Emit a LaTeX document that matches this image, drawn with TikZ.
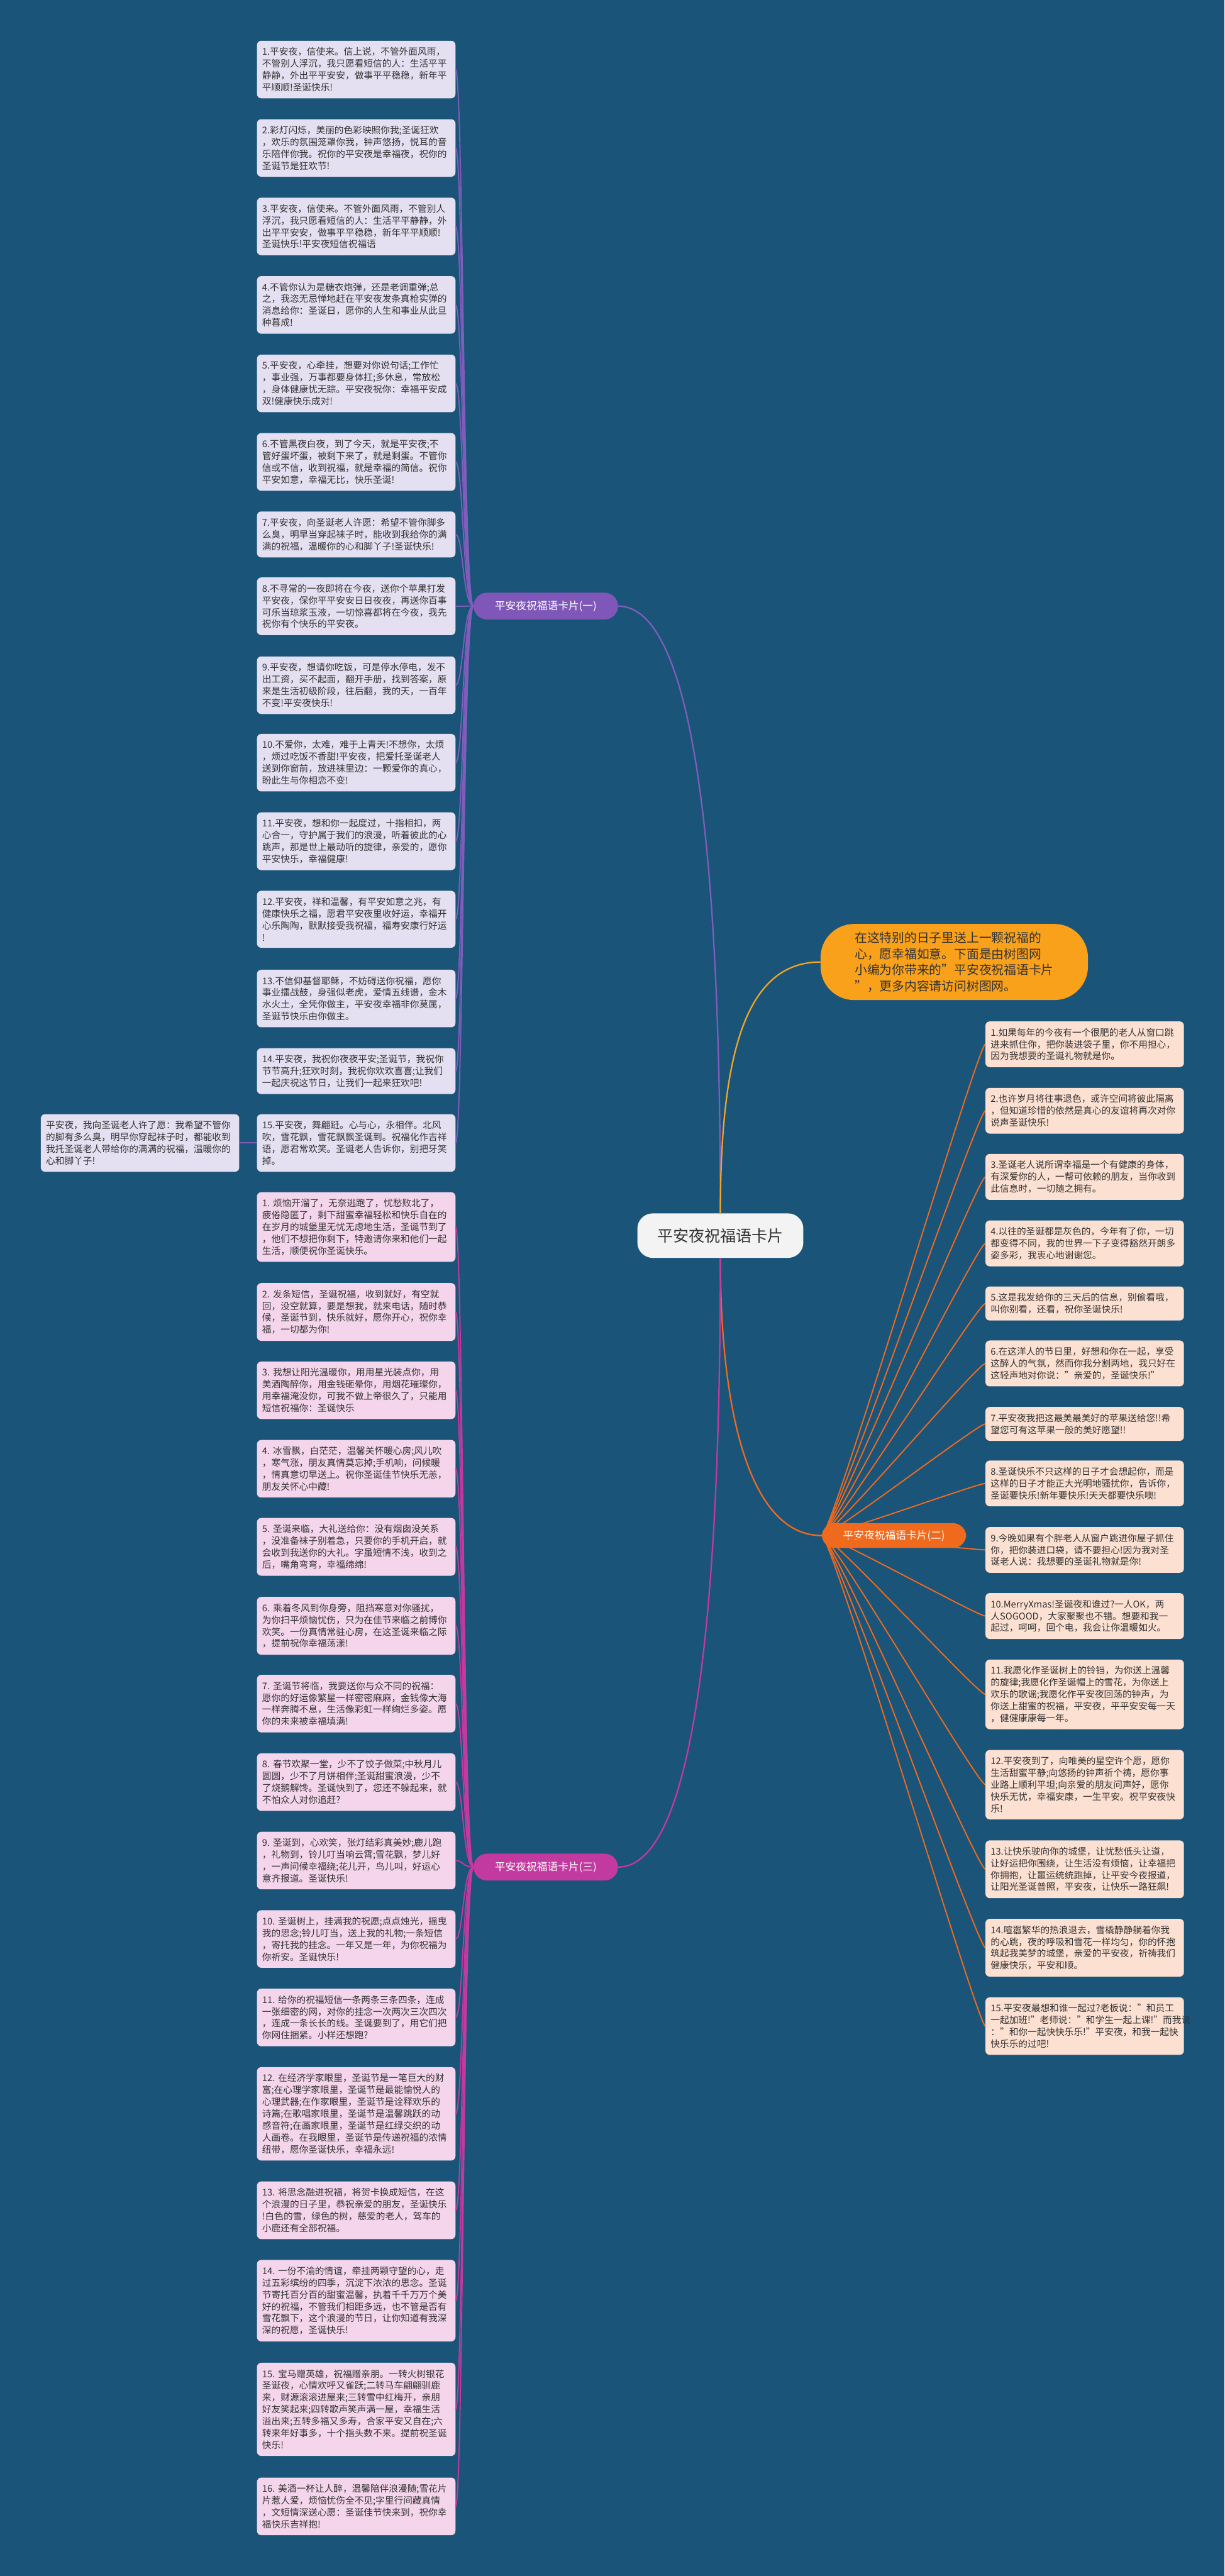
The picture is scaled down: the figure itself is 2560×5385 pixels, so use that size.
\documentclass[tikz,border=0pt]{standalone}
\usepackage{fontspec}
\setmainfont{Noto Sans CJK SC}
\usetikzlibrary{calc}
\definecolor{bgc}{HTML}{1B5479}
\definecolor{lavc}{HTML}{E4DFF1}
\definecolor{pinkc}{HTML}{F4D5EB}
\definecolor{peachc}{HTML}{FCE0D1}
\definecolor{txtc}{HTML}{333333}
\definecolor{cone}{HTML}{7F5DBA}
\definecolor{conepill}{HTML}{7E57B9}
\definecolor{ctwo}{HTML}{F06A1E}
\definecolor{cthree}{HTML}{C2399F}
\definecolor{callc}{HTML}{F9A11B}
\definecolor{callline}{HTML}{F2A526}
\definecolor{rootc}{HTML}{F3F3F3}
\tikzset{
 card/.style={rounded corners=9pt, text width=393pt, align=left, inner xsep=11pt, inner ysep=14pt, anchor=north west, font=\fontsize{19.3}{24.8}\selectfont, text=txtc},
 lcard/.style={card, fill=lavc},
 pcard/.style={card, fill=pinkc},
 rcard/.style={card, fill=peachc},
 pill/.style={rounded corners=28pt, minimum width=302pt, minimum height=56pt, text=white, font=\fontsize{22}{26}\selectfont, inner sep=0pt},
 link/.style={line width=2.5pt},
 mainlink/.style={line width=3pt},
}
\begin{document}
\begin{tikzpicture}[x=1pt,y=-1pt]
\fill[bgc] (0,0) rectangle (2560,5385);
\useasboundingbox (0,0) rectangle (2560,5385);

% root and callout
\node[fill=rootc, rounded corners=32pt, minimum width=347pt, minimum height=93pt, inner sep=0pt, font=\fontsize{33}{38}\selectfont, text=txtc] (root) at (1506,2583) {平安夜祝福语卡片};
\node[fill=callc, rounded corners=70pt, minimum width=559pt, minimum height=159pt, inner sep=0pt, align=left, font=\fontsize{26}{34}\selectfont, text=txtc] (call) at (1995,2011) {在这特别的日子里送上一颗祝福的\\心，愿幸福如意。下面是由树图网\\小编为你带来的"平安夜祝福语卡片\\"，更多内容请访问树图网。};

% branch pills
\node[pill, fill=conepill] (b1) at (1141,1267) {平安夜祝福语卡片(一)};
\node[pill, fill=ctwo, minimum height=52pt] (b2) at (1869,3210) {平安夜祝福语卡片(二)};
\node[pill, fill=cthree] (b3) at (1141,3903) {平安夜祝福语卡片(三)};

% branch 1 cards
\node[lcard] (l1) at (537,85) {1.平安夜，信使来。信上说，不管外面风雨，\\不管别人浮沉，我只愿看短信的人：生活平平\\静静，外出平平安安，做事平平稳稳，新年平\\平顺顺!圣诞快乐!};
\node[lcard] (l2) at (537,249) {2.彩灯闪烁，美丽的色彩映照你我;圣诞狂欢\\，欢乐的氛围笼罩你我，钟声悠扬，悦耳的音\\乐陪伴你我。祝你的平安夜是幸福夜，祝你的\\圣诞节是狂欢节!};
\node[lcard] (l3) at (537,413) {3.平安夜，信使来。不管外面风雨，不管别人\\浮沉，我只愿看短信的人：生活平平静静，外\\出平平安安，做事平平稳稳，新年平平顺顺!\\圣诞快乐!平安夜短信祝福语};
\node[lcard] (l4) at (537,577) {4.不管你认为是糖衣炮弹，还是老调重弹;总\\之，我恣无忌惮地赶在平安夜发条真枪实弹的\\消息给你：圣诞日，愿你的人生和事业从此旦\\种暮成!};
\node[lcard] (l5) at (537,741) {5.平安夜，心牵挂，想要对你说句话;工作忙\\，事业强，万事都要身体扛;多休息，常放松\\，身体健康忧无踪。平安夜祝你：幸福平安成\\双!健康快乐成对!};
\node[lcard] (l6) at (537,905) {6.不管黑夜白夜，到了今天，就是平安夜;不\\管好蛋坏蛋，被剩下来了，就是剩蛋。不管你\\信或不信，收到祝福，就是幸福的简信。祝你\\平安如意，幸福无比，快乐圣诞!};
\node[lcard] (l7) at (537,1069) {7.平安夜，向圣诞老人许愿：希望不管你脚多\\么臭，明早当穿起袜子时，能收到我给你的满\\满的祝福，温暖你的心和脚丫子!圣诞快乐!};
\node[lcard] (l8) at (537,1207) {8.不寻常的一夜即将在今夜，送你个苹果打发\\平安夜，保你平平安安日日夜夜，再送你百事\\可乐当琼浆玉液，一切惊喜都将在今夜，我先\\祝你有个快乐的平安夜。};
\node[lcard] (l9) at (537,1372) {9.平安夜，想请你吃饭，可是停水停电，发不\\出工资，买不起面，翻开手册，找到答案，原\\来是生活初级阶段，往后翻，我的天，一百年\\不变!平安夜快乐!};
\node[lcard] (l10) at (537,1534) {10.不爱你，太难，难于上青天!不想你，太烦\\，烦过吃饭不香甜!平安夜，把爱托圣诞老人\\送到你窗前，放进袜里边：一颗爱你的真心，\\盼此生与你相恋不变!};
\node[lcard] (l11) at (537,1698) {11.平安夜，想和你一起度过，十指相扣，两\\心合一，守护属于我们的浪漫，听着彼此的心\\跳声，那是世上最动听的旋律，亲爱的，愿你\\平安快乐，幸福健康!};
\node[lcard] (l12) at (537,1862) {12.平安夜，祥和温馨，有平安如意之兆，有\\健康快乐之福，愿君平安夜里收好运，幸福开\\心乐陶陶，默默接受我祝福，福寿安康行好运\\!};
\node[lcard] (l13) at (537,2027) {13.不信仰基督耶稣，不妨碍送你祝福，愿你\\事业擂战鼓，身强似老虎，爱情五线谱，金木\\水火土，全凭你做主，平安夜幸福非你莫属，\\圣诞节快乐由你做主。};
\node[lcard] (l14) at (537,2191) {14.平安夜，我祝你夜夜平安;圣诞节，我祝你\\节节高升;狂欢时刻，我祝你欢欢喜喜;让我们\\一起庆祝这节日，让我们一起来狂欢吧!};
\node[lcard] (l15) at (537,2329) {15.平安夜，舞翩跹。心与心，永相伴。北风\\吹，雪花飘，雪花飘飘圣诞到。祝福化作吉祥\\语，愿君常欢笑。圣诞老人告诉你，别把牙笑\\掉。};
\node[lcard] (f1) at (85,2329) {平安夜，我向圣诞老人许了愿：我希望不管你\\的脚有多么臭，明早你穿起袜子时，都能收到\\我托圣诞老人带给你的满满的祝福，温暖你的\\心和脚丫子!};

% branch 2 cards
\node[rcard] (r1) at (2060,2135) {1.如果每年的今夜有一个很肥的老人从窗口跳\\进来抓住你，把你装进袋子里，你不用担心，\\因为我想要的圣诞礼物就是你。};
\node[rcard] (r2) at (2060,2274) {2.也许岁月将往事退色，或许空间将彼此隔离\\，但知道珍惜的依然是真心的友谊将再次对你\\说声圣诞快乐!};
\node[rcard] (r3) at (2060,2412) {3.圣诞老人说所谓幸福是一个有健康的身体，\\有深爱你的人，一帮可依赖的朋友，当你收到\\此信息时，一切随之拥有。};
\node[rcard] (r4) at (2060,2551) {4.以往的圣诞都是灰色的，今年有了你，一切\\都变得不同，我的世界一下子变得豁然开朗多\\姿多彩，我衷心地谢谢您。};
\node[rcard] (r5) at (2060,2689) {5.这是我发给你的三天后的信息，别偷看哦，\\叫你别看，还看，祝你圣诞快乐!};
\node[rcard] (r6) at (2060,2802) {6.在这洋人的节日里，好想和你在一起，享受\\这醉人的气氛，然而你我分割两地，我只好在\\这轻声地对你说："亲爱的，圣诞快乐!"};
\node[rcard] (r7) at (2060,2941) {7.平安夜我把这最美最美好的苹果送给您!!希\\望您可有这苹果一般的美好愿望!!};
\node[rcard] (r8) at (2060,3053) {8.圣诞快乐不只这样的日子才会想起你，而是\\这样的日子才能正大光明地骚扰你，告诉你，\\圣诞要快乐!新年要快乐!天天都要快乐噢!};
\node[rcard] (r9) at (2060,3192) {9.今晚如果有个胖老人从窗户跳进你屋子抓住\\你，把你装进口袋，请不要担心!因为我对圣\\诞老人说：我想要的圣诞礼物就是你!};
\node[rcard] (r10) at (2060,3330) {10.MerryXmas!圣诞夜和谁过?一人OK，两\\人SOGOOD，大家聚聚也不错。想要和我一\\起过，呵呵，回个电，我会让你温暖如火。};
\node[rcard] (r11) at (2060,3469) {11.我愿化作圣诞树上的铃铛，为你送上温馨\\的旋律;我愿化作圣诞帽上的雪花，为你送上\\欢乐的歌谣;我愿化作平安夜回荡的钟声，为\\你送上甜蜜的祝福，平安夜，平平安安每一天\\，健健康康每一年。};
\node[rcard] (r12) at (2060,3658) {12.平安夜到了，向唯美的星空许个愿，愿你\\生活甜蜜平静;向悠扬的钟声祈个祷，愿你事\\业路上顺利平坦;向亲爱的朋友问声好，愿你\\快乐无忧，幸福安康，一生平安。祝平安夜快\\乐!};
\node[rcard] (r13) at (2060,3847) {13.让快乐驶向你的城堡，让忧愁低头让道，\\让好运把你围绕，让生活没有烦恼，让幸福把\\你拥抱，让噩运统统跑掉，让平安今夜报道，\\让阳光圣诞普照，平安夜，让快乐一路狂飙!};
\node[rcard] (r14) at (2060,4011) {14.喧嚣繁华的热浪退去，雪橇静静躺着你我\\的心跳，夜的呼吸和雪花一样均匀，你的怀抱\\筑起我美梦的城堡，亲爱的平安夜，祈祷我们\\健康快乐，平安和顺。};
\node[rcard] (r15) at (2060,4175) {15.平安夜最想和谁一起过?老板说："和员工\\一起加班!"老师说："和学生一起上课!"而我说\\："和你一起快快乐乐!"平安夜，和我一起快\\快乐乐的过吧!};

% branch 3 cards
\node[pcard] (p1) at (537,2492) {1.~烦恼开溜了，无奈逃跑了，忧愁败北了，\\疲倦隐匿了，剩下甜蜜幸福轻松和快乐自在的\\在岁月的城堡里无忧无虑地生活，圣诞节到了\\，他们不想把你剩下，特邀请你来和他们一起\\生活，顺便祝你圣诞快乐。};
\node[pcard] (p2) at (537,2682) {2.~发条短信，圣诞祝福，收到就好，有空就\\回，没空就算，要是想我，就来电话，随时恭\\候，圣诞节到，快乐就好，愿你开心，祝你幸\\福，一切都为你!};
\node[pcard] (p3) at (537,2846) {3.~我想让阳光温暖你，用用星光装点你，用\\美酒陶醉你，用金钱砸晕你，用烟花璀璨你，\\用幸福淹没你，可我不做上帝很久了，只能用\\短信祝福你：圣诞快乐};
\node[pcard] (p4) at (537,3010) {4.~冰雪飘，白茫茫，温馨关怀暖心房;风儿吹\\，寒气涨，朋友真情莫忘掉;手机响，问候暖\\，情真意切早送上。祝你圣诞佳节快乐无恙，\\朋友关怀心中藏!};
\node[pcard] (p5) at (537,3173) {5.~圣诞来临，大礼送给你：没有烟囱没关系\\，没准备袜子别着急，只要你的手机开启，就\\会收到我送你的大礼。字虽短情不浅，收到之\\后，嘴角弯弯，幸福绵绵!};
\node[pcard] (p6) at (537,3338) {6.~乘着冬风到你身旁，阻挡寒意对你骚扰，\\为你扫平烦恼忧伤，只为在佳节来临之前博你\\欢笑。一份真情常驻心房，在这圣诞来临之际\\，提前祝你幸福荡漾!};
\node[pcard] (p7) at (537,3501) {7.~圣诞节将临，我要送你与众不同的祝福：\\愿你的好运像繁星一样密密麻麻，金钱像大海\\一样奔腾不息，生活像彩虹一样绚烂多姿。愿\\你的未来被幸福填满!};
\node[pcard] (p8) at (537,3665) {8.~春节欢聚一堂，少不了饺子做菜;中秋月儿\\圆圆，少不了月饼相伴;圣诞甜蜜浪漫，少不\\了烧鹅解馋。圣诞快到了，您还不躲起来，就\\不怕众人对你追赶?};
\node[pcard] (p9) at (537,3829) {9.~圣诞到，心欢笑，张灯结彩真美妙;鹿儿跑\\，礼物到，铃儿叮当响云霄;雪花飘，梦儿好\\，一声问候幸福绕;花儿开，鸟儿叫，好运心\\意齐报道。圣诞快乐!};
\node[pcard] (p10) at (537,3993) {10.~圣诞树上，挂满我的祝愿;点点烛光，摇曳\\我的思念;铃儿叮当，送上我的礼物;一条短信\\，寄托我的挂念。一年又是一年，为你祝福为\\你祈安。圣诞快乐!};
\node[pcard] (p11) at (537,4157) {11.~给你的祝福短信一条两条三条四条，连成\\一张细密的网，对你的挂念一次两次三次四次\\，连成一条长长的线。圣诞要到了，用它们把\\你网住捆紧。小样还想跑?};
\node[pcard] (p12) at (537,4321) {12.~在经济学家眼里，圣诞节是一笔巨大的财\\富;在心理学家眼里，圣诞节是最能愉悦人的\\心理武器;在作家眼里，圣诞节是诠释欢乐的\\诗篇;在歌唱家眼里，圣诞节是温馨跳跃的动\\感音符;在画家眼里，圣诞节是红绿交织的动\\人画卷。在我眼里，圣诞节是传递祝福的浓情\\纽带，愿你圣诞快乐，幸福永远!};
\node[pcard] (p13) at (537,4560) {13.~将思念融进祝福，将贺卡换成短信，在这\\个浪漫的日子里，恭祝亲爱的朋友，圣诞快乐\\!白色的雪，绿色的树，慈爱的老人，驾车的\\小鹿还有全部祝福。};
\node[pcard] (p14) at (537,4724) {14.~一份不渝的情谊，牵挂两颗守望的心，走\\过五彩缤纷的四季，沉淀下浓浓的思念。圣诞\\节寄托百分百的甜蜜温馨，执着千千万万个美\\好的祝福，不管我们相距多远，也不管是否有\\雪花飘下，这个浪漫的节日，让你知道有我深\\深的祝愿，圣诞快乐!};
\node[pcard] (p15) at (537,4939) {15.~宝马赠英雄，祝福赠亲朋。一转火树银花\\圣诞夜，心情欢呼又雀跃;二转马车翩翩驯鹿\\来，财源滚滚进屋来;三转雪中红梅开，亲朋\\好友笑起来;四转歌声笑声满一屋，幸福生活\\溢出来;五转多福又多寿，合家平安又自在;六\\转来年好事多，十个指头数不来。提前祝圣诞\\快乐!};
\node[pcard] (p16) at (537,5179) {16.~美酒一杯让人醉，温馨陪伴浪漫随;雪花片\\片惹人爱，烦恼忧伤全不见;字里行间藏真情\\，文短情深送心愿：圣诞佳节快来到，祝你幸\\福快乐吉祥抱!};

% root connectors
\draw[mainlink, cone] (root.north) .. controls (1506,1600) and (1420,1267) .. (b1.east);
\draw[mainlink, callline] (root.north) .. controls (1506,2200) and (1560,2011) .. (call.west);
\draw[mainlink, ctwo] (root.south) .. controls (1506,2960) and (1570,3210) .. (b2.west);
\draw[mainlink, cthree] (root.south) .. controls (1506,3560) and (1420,3903) .. (b3.east);

% bundles
\foreach \n in {1,...,15}
  \draw[link, cone] (b1.west) .. controls ($(b1.west)+(-22,0)$) and ($(l\n.east)+(16,0)$) .. (l\n.east);
\draw[link, cone] (l15.west) -- (f1.east);
\foreach \n in {1,...,15}
  \draw[link, ctwo] (b2.west) .. controls ($(b2.west)+(22,0)$) and ($(r\n.west)+(-16,0)$) .. (r\n.west);
\foreach \n in {1,...,16}
  \draw[link, cthree] (b3.west) .. controls ($(b3.west)+(-22,0)$) and ($(p\n.east)+(16,0)$) .. (p\n.east);
\end{tikzpicture}
\end{document}
